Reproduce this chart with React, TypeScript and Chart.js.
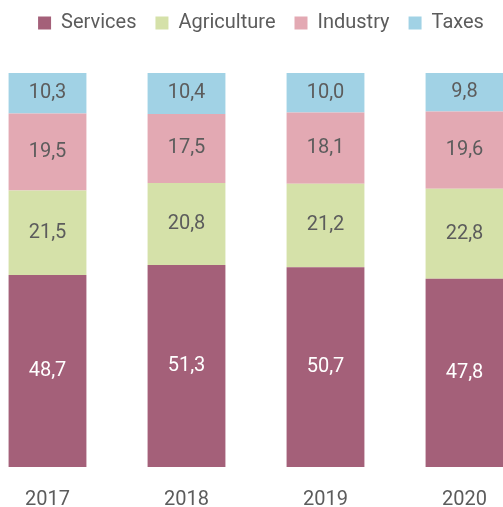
import React, { useEffect, useRef } from "react";
import { Chart, registerables } from "chart.js";

Chart.register(...registerables);

const years = ["2017", "2018", "2019", "2020"];
const services = [48.7, 51.3, 50.7, 47.8];
const agriculture = [21.5, 20.8, 21.2, 22.8];
const industry = [19.5, 17.5, 18.1, 19.6];
const taxes = [10.3, 10.4, 10.0, 9.8];

const FONT = "Roboto";
const TEXT = "#5c5c5c";

const valueLabels = {
  id: "valueLabels",
  afterDatasetsDraw(chart: any) {
    const ctx = chart.ctx;
    ctx.save();
    ctx.font = `20px ${FONT}`;
    ctx.textAlign = "center";
    ctx.textBaseline = "middle";
    chart.data.datasets.forEach((ds: any, i: number) => {
      const meta = chart.getDatasetMeta(i);
      meta.data.forEach((bar: any, j: number) => {
        const v = ds.data[j];
        const y = (bar.y + bar.base) / 2;
        ctx.fillStyle = i === 0 ? "#ffffff" : TEXT;
        ctx.fillText(v.toFixed(1).replace(".", ","), bar.x, y);
      });
    });
    ctx.restore();
  },
};

const legendSpace = {
  id: "legendSpace",
  beforeInit(chart: any) {
    const orig = chart.legend.fit;
    chart.legend.fit = function () {
      orig.call(this);
      this.height = 79;
    };
  },
  afterLayout(chart: any) {
    chart.legend.left += 5;
    chart.legend.right += 5;
  },
};

export default function App() {
  const ref = useRef<HTMLCanvasElement>(null);
  useEffect(() => {
    const chart = new Chart(ref.current!, {
      type: "bar",
      data: {
        labels: years,
        datasets: [
          { label: "Services", data: services, backgroundColor: "#a46079" },
          { label: "Agriculture", data: agriculture, backgroundColor: "#d5e1a9" },
          { label: "Industry", data: industry, backgroundColor: "#e3a9b3" },
          { label: "Taxes", data: taxes, backgroundColor: "#a1d2e5" },
        ].map((d) => ({
          ...d,
          barPercentage: 1,
          categoryPercentage: 0.56,
          borderWidth: 0,
        })),
      },
      options: {
        animation: false,
        responsive: false,
        maintainAspectRatio: false,
        layout: { padding: { left: 0, right: 0, top: -14, bottom: 0 } },
        plugins: {
          legend: {
            position: "top",
            labels: {
              boxWidth: 13,
              boxHeight: 13,
              padding: 19,
              color: TEXT,
              font: { family: FONT, size: 20 },
            },
          },
          tooltip: { enabled: false },
        },
        scales: {
          x: {
            stacked: true,
            offset: true,
            grid: { display: false, drawTicks: false },
            border: { display: false },
            afterFit(scale: any) {
              scale.height = 40;
            },
            ticks: {
              color: TEXT,
              padding: 21,
              font: { family: FONT, size: 20 },
              maxRotation: 0,
            },
          },
          y: {
            stacked: true,
            display: false,
            min: 0,
            max: 100,
          },
        },
      },
      plugins: [valueLabels, legendSpace],
    });
    return () => chart.destroy();
  }, []);
  return (
    <div style={{ position: "fixed", left: -22, top: 8, width: 556, height: 499 }}>
      <canvas ref={ref} width={556} height={499} style={{ display: "block" }} />
    </div>
  );
}
